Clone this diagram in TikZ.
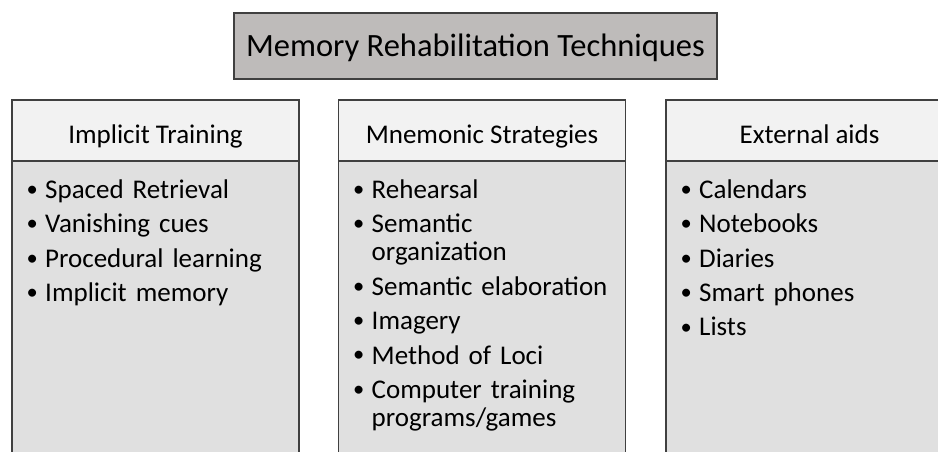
\documentclass[tikz,border=0pt]{standalone}
\usepackage{fontspec}
\setmainfont{Carlito}
\usetikzlibrary{positioning}
\definecolor{edgegray}{RGB}{64,64,64}
\definecolor{titlegray}{RGB}{190,187,186}
\definecolor{headgray}{RGB}{242,242,242}
\definecolor{bodygray}{RGB}{224,224,224}
\tikzstyle{titlebox}=[draw=edgegray, fill=titlegray, line width=1.2pt, minimum width=483pt, minimum height=66pt, inner sep=0pt, outer sep=0pt, text height=22pt, text depth=0pt, font=\fontsize{32.5}{39}\selectfont]
\tikzstyle{headbox}=[draw=edgegray, fill=headgray, line width=1.2pt, minimum width=287pt, minimum height=61pt, inner sep=0pt, outer sep=0pt, text height=25pt, text depth=0pt, font=\fontsize{27}{33}\selectfont]
\tikzstyle{bodybox}=[draw=edgegray, fill=bodygray, line width=1.2pt, minimum width=287pt, minimum height=320pt, inner sep=0pt, outer sep=0pt]
\tikzstyle{listbox}=[anchor=base west, inner sep=0pt, text width=255pt, align=left, font=\fontsize{27}{28}\selectfont, execute at begin node={\setlength{\parskip}{6.5pt}\hyphenpenalty=10000}]
\newcommand{\litem}[1]{\hangindent=19pt\hangafter=1\noindent\makebox[19pt][l]{\hspace{0.5pt}\raisebox{2pt}{\fontsize{22.5}{22.5}\selectfont\textbullet}}#1\par}

\begin{document}
\begin{tikzpicture}[x=1pt,y=1pt]
      \useasboundingbox (0,0) rectangle (938,451);
      \clip (0,0) rectangle (938,451);
      \node [titlebox] (title) at (475.5,405) {Memory Rehabilitation Techniques};
      % column headers
      \node [headbox] (implicit) at (155.5,320.5) {Implicit Training};
      \node [headbox] (mnemonic) at (482,320.5) {Mnemonic Strategies};
      \node [headbox] (external) at (809.5,320.5) {External aids};
      % column bodies
      \node [bodybox, below=0pt of implicit] (implicitbody) {};
      \node [bodybox, below=0pt of mnemonic] (mnemonicbody) {};
      \node [bodybox, below=0pt of external] (externalbody) {};
      % lists
      \node [listbox] (implicitlist) at ([xshift=14pt,yshift=-37pt]implicitbody.north west) {%
        \litem{Spaced Retrieval}
        \litem{Vanishing cues}
        \litem{Procedural learning}
        \litem{Implicit memory}};
      \node [listbox] (mnemoniclist) at ([xshift=14pt,yshift=-37pt]mnemonicbody.north west) {%
        \litem{Rehearsal}
        \litem{Semantic organization}
        \litem{Semantic elaboration}
        \litem{Imagery}
        \litem{Method of Loci}
        \litem{Computer training programs/games}};
      \node [listbox] (externallist) at ([xshift=14pt,yshift=-37pt]externalbody.north west) {%
        \litem{Calendars}
        \litem{Notebooks}
        \litem{Diaries}
        \litem{Smart phones}
        \litem{Lists}};
    \end{tikzpicture}
\end{document}
